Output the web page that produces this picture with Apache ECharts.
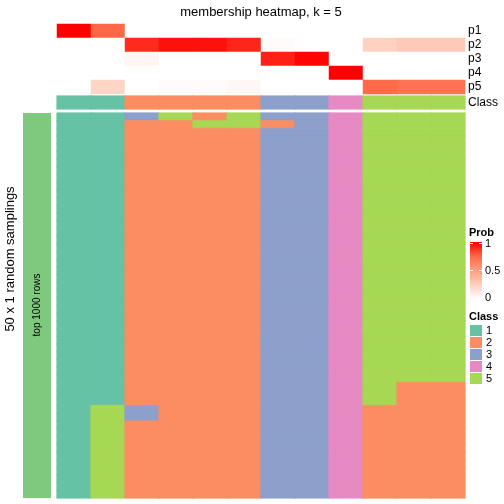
<!DOCTYPE html>
<html>
<head>
<meta charset="utf-8">
<script src="https://cdn.jsdelivr.net/npm/echarts@6/dist/echarts.min.js"></script>
<style>html,body{margin:0;padding:0;background:#fff;}#c{width:504px;height:504px;}</style>
</head>
<body>
<div id="c"></div>
<script>
// ---- data ----
const columns = ['1','2','3','4','5','6','7','8','9','10','11','12'];
const probRows = ['p1','p2','p3','p4','p5'];
const p1 = [1.00, 0.75, 0, 0, 0, 0, 0, 0, 0, 0, 0, 0];
const p2 = [0, 0, 0.90, 0.96, 0.96, 0.91, 0.02, 0, 0, 0.24, 0.28, 0.28];
const p3 = [0, 0, 0.05, 0, 0, 0, 0.92, 0.99, 0, 0, 0, 0];
const p4 = [0, 0, 0, 0, 0, 0, 0, 0, 1.00, 0, 0, 0];
const p5 = [0, 0.22, 0, 0.02, 0.02, 0.04, 0, 0, 0, 0.74, 0.70, 0.70];
const classRow = [1, 1, 2, 2, 2, 2, 3, 3, 4, 5, 5, 5];
const classLabels = ['1','2','3','4','5'];
// 50 samplings (rows, top to bottom), one array per column
const s1  = [1,1,1,1,1,1,1,1,1,1, 1,1,1,1,1,1,1,1,1,1, 1,1,1,1,1,1,1,1,1,1, 1,1,1,1,1,1,1,1,1,1, 1,1,1,1,1,1,1,1,1,1];
const s2  = [1,1,1,1,1,1,1,1,1,1, 1,1,1,1,1,1,1,1,1,1, 1,1,1,1,1,1,1,1,1,1, 1,1,1,1,1,1,1,1,5,5, 5,5,5,5,5,5,5,5,5,5];
const s3  = [3,2,2,2,2,2,2,2,2,2, 2,2,2,2,2,2,2,2,2,2, 2,2,2,2,2,2,2,2,2,2, 2,2,2,2,2,2,2,2,3,3, 2,2,2,2,2,2,2,2,2,2];
const s4  = [5,2,2,2,2,2,2,2,2,2, 2,2,2,2,2,2,2,2,2,2, 2,2,2,2,2,2,2,2,2,2, 2,2,2,2,2,2,2,2,2,2, 2,2,2,2,2,2,2,2,2,2];
const s5  = [2,5,2,2,2,2,2,2,2,2, 2,2,2,2,2,2,2,2,2,2, 2,2,2,2,2,2,2,2,2,2, 2,2,2,2,2,2,2,2,2,2, 2,2,2,2,2,2,2,2,2,2];
const s6  = [5,5,2,2,2,2,2,2,2,2, 2,2,2,2,2,2,2,2,2,2, 2,2,2,2,2,2,2,2,2,2, 2,2,2,2,2,2,2,2,2,2, 2,2,2,2,2,2,2,2,2,2];
const s7  = [3,2,3,3,3,3,3,3,3,3, 3,3,3,3,3,3,3,3,3,3, 3,3,3,3,3,3,3,3,3,3, 3,3,3,3,3,3,3,3,3,3, 3,3,3,3,3,3,3,3,3,3];
const s8  = [3,3,3,3,3,3,3,3,3,3, 3,3,3,3,3,3,3,3,3,3, 3,3,3,3,3,3,3,3,3,3, 3,3,3,3,3,3,3,3,3,3, 3,3,3,3,3,3,3,3,3,3];
const s9  = [4,4,4,4,4,4,4,4,4,4, 4,4,4,4,4,4,4,4,4,4, 4,4,4,4,4,4,4,4,4,4, 4,4,4,4,4,4,4,4,4,4, 4,4,4,4,4,4,4,4,4,4];
const s10 = [5,5,5,5,5,5,5,5,5,5, 5,5,5,5,5,5,5,5,5,5, 5,5,5,5,5,5,5,5,5,5, 5,5,5,5,5,5,5,5,2,2, 2,2,2,2,2,2,2,2,2,2];
const s11 = [5,5,5,5,5,5,5,5,5,5, 5,5,5,5,5,5,5,5,5,5, 5,5,5,5,5,5,5,5,5,5, 5,5,5,5,5,2,2,2,2,2, 2,2,2,2,2,2,2,2,2,2];
const s12 = [5,5,5,5,5,5,5,5,5,5, 5,5,5,5,5,5,5,5,5,5, 5,5,5,5,5,5,5,5,5,5, 5,5,5,5,5,2,2,2,2,2, 2,2,2,2,2,2,2,2,2,2];

// ---- build ----
const probMatrix = [p1, p2, p3, p4, p5];
const samplingCols = [s1, s2, s3, s4, s5, s6, s7, s8, s9, s10, s11, s12];
const nSamp = s1.length;
const sampRows = Array.from({length: nSamp}, (_, i) => String(i + 1));
const classColors = ['#66C2A5', '#FC8D62', '#8DA0CB', '#E78AC3', '#A6D854'];
const probColors = ['#FFFFFF', '#FFCFBE', '#FF9E81', '#FF6846', '#FF0000'];
const FONT = '"Liberation Sans", Arial, Helvetica, sans-serif';

const probData = [];
probMatrix.forEach((row, r) => row.forEach((v, c) => probData.push([c, r, v])));
const classData = classRow.map((v, c) => ({value: [c, 0, v], itemStyle: {borderColor: classColors[v - 1], borderWidth: 0.6}}));
const sampData = [];
samplingCols.forEach((col, c) => col.forEach((v, r) => sampData.push({
  value: [c, r, v], itemStyle: {borderColor: classColors[v - 1], borderWidth: 0.6}
})));

const chart = echarts.init(document.getElementById('c'), null, {renderer: 'canvas'});

const hiddenX = (gi) => ({type: 'category', data: columns, gridIndex: gi, show: false});
const yCat = (gi, data, showLabels) => ({
  type: 'category', data: data, gridIndex: gi, inverse: true, position: 'right',
  axisLine: {show: false}, axisTick: {show: false}, splitLine: {show: false},
  axisLabel: {show: showLabels, interval: 0, color: '#000', fontSize: 12, fontFamily: FONT, margin: 3}
});

const option = {
  animation: false,
  backgroundColor: '#fff',
  grid: [
    {left: 57, top: 24, width: 408, height: 70},
    {left: 57, top: 96, width: 408, height: 13},
    {left: 57, top: 113, width: 408, height: 385}
  ],
  xAxis: [hiddenX(0), hiddenX(1), hiddenX(2)],
  yAxis: [yCat(0, probRows, true), yCat(1, ['Class'], true), yCat(2, sampRows, false)],
  visualMap: [
    {
      type: 'continuous', min: 0, max: 1, seriesIndex: 0, show: false,
      inRange: {color: probColors}
    },
    {
      type: 'piecewise', seriesIndex: [1, 2], orient: 'vertical', inverse: true, align: 'left',
      left: 470, top: 325, padding: 0, itemWidth: 12, itemHeight: 11, itemGap: 1, itemSymbol: 'rect',
      textGap: 4, selectedMode: false, showLabel: true,
      textStyle: {color: '#000', fontSize: 11, fontFamily: FONT},
      pieces: classLabels.map((l, i) => ({value: i + 1, label: l, color: classColors[i]}))
    }
  ],
  series: [
    {type: 'heatmap', xAxisIndex: 0, yAxisIndex: 0, data: probData, emphasis: {disabled: true}, progressive: 0},
    {type: 'heatmap', xAxisIndex: 1, yAxisIndex: 1, data: classData, emphasis: {disabled: true}, progressive: 0},
    {type: 'heatmap', xAxisIndex: 2, yAxisIndex: 2, data: sampData, emphasis: {disabled: true}, progressive: 0}
  ],
  graphic: [
    {type: 'text', x: 261, y: 12, style: {text: 'membership heatmap, k = 5', fill: '#000', font: '13px ' + FONT, textAlign: 'center', textVerticalAlign: 'middle'}},
    {type: 'text', x: 10, y: 259, rotation: Math.PI / 2, style: {text: '50 x 1 random samplings', fill: '#000', font: '13px ' + FONT, textAlign: 'center', textVerticalAlign: 'middle'}},
    {type: 'rect', shape: {x: 23, y: 113, width: 28, height: 385}, style: {fill: '#7FC97F'}},
    {type: 'text', x: 37, y: 305, rotation: Math.PI / 2, style: {text: 'top 1000 rows', fill: '#000', font: '10px ' + FONT, textAlign: 'center', textVerticalAlign: 'middle'}},
    {type: 'text', x: 469, y: 233, style: {text: 'Prob', fill: '#000', font: 'bold 11px ' + FONT, textVerticalAlign: 'middle'}},
    {type: 'rect', shape: {x: 470, y: 242, width: 12, height: 57},
      style: {fill: new echarts.graphic.LinearGradient(0, 0, 0, 1, [
        {offset: 0, color: probColors[4]}, {offset: 0.25, color: probColors[3]},
        {offset: 0.5, color: probColors[2]}, {offset: 0.75, color: probColors[1]},
        {offset: 1, color: probColors[0]}])}},
    {type: 'line', shape: {x1: 470, y1: 243.5, x2: 473, y2: 243.5}, style: {stroke: '#fff', lineWidth: 1}},
    {type: 'line', shape: {x1: 479, y1: 243.5, x2: 482, y2: 243.5}, style: {stroke: '#fff', lineWidth: 1}},
    {type: 'line', shape: {x1: 470, y1: 270.5, x2: 473, y2: 270.5}, style: {stroke: '#fff', lineWidth: 1}},
    {type: 'line', shape: {x1: 479, y1: 270.5, x2: 482, y2: 270.5}, style: {stroke: '#fff', lineWidth: 1}},
    {type: 'text', x: 485, y: 244, style: {text: '1', fill: '#000', font: '11px ' + FONT, textVerticalAlign: 'middle'}},
    {type: 'text', x: 485, y: 271, style: {text: '0.5', fill: '#000', font: '11px ' + FONT, textVerticalAlign: 'middle'}},
    {type: 'text', x: 485, y: 298, style: {text: '0', fill: '#000', font: '11px ' + FONT, textVerticalAlign: 'middle'}},
    {type: 'text', x: 469, y: 317, style: {text: 'Class', fill: '#000', font: 'bold 11px ' + FONT, textVerticalAlign: 'middle'}}
  ]
};
chart.setOption(option);
</script>
</body>
</html>
